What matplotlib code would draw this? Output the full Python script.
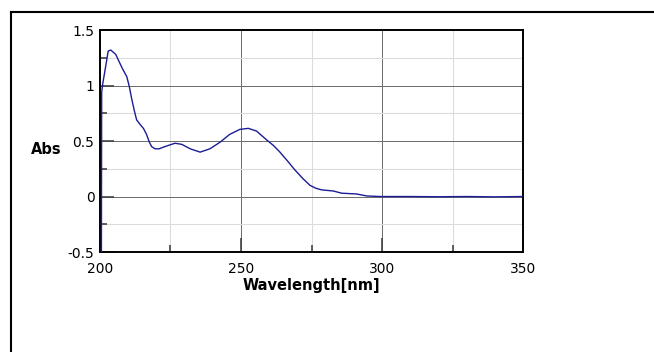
import matplotlib
matplotlib.use("Agg")
import matplotlib.pyplot as plt
from matplotlib.lines import Line2D
from matplotlib.ticker import MultipleLocator

plt.rcParams['font.family'] = ['DejaVu Sans']

# UV spectrum
wavelength = [200.5, 200.6, 201.0, 201.8, 202.9, 203.8, 204.7, 205.6, 206.5, 208.0,
              209.5, 210.4, 211.2, 212.2, 213.0, 214.2, 215.4, 216.5, 217.5, 218.3,
              219.5, 221.0, 222.5, 224.2, 226.6, 229.0, 232.0, 235.5, 239.0, 242.6,
              246.0, 249.6, 252.6, 255.5, 259.1, 261.5, 263.8, 266.5, 269.1, 272.0,
              274.5, 276.5, 278.6, 282.7, 285.7, 288.0, 291.0, 294.6, 299.3, 310,
              320, 330, 340, 350]
absorbance = [-0.5, 0.94, 1.02, 1.14, 1.31, 1.32, 1.30, 1.28, 1.23, 1.15,
              1.08, 0.99, 0.885, 0.77, 0.69, 0.65, 0.614, 0.56, 0.49, 0.45,
              0.43, 0.43, 0.445, 0.46, 0.48, 0.47, 0.43, 0.40, 0.43, 0.49,
              0.56, 0.605, 0.614, 0.59, 0.51, 0.46, 0.40, 0.32, 0.24, 0.16,
              0.10, 0.075, 0.06, 0.05, 0.03, 0.027, 0.023, 0.005, 0.0, 0.0,
              -0.002, 0.0, -0.003, 0.0]

fig = plt.figure(figsize=(6.54, 3.52), dpi=100)
ax = fig.add_axes([0.1529, 0.284, 0.6468, 0.6307])

ax.plot(wavelength, absorbance, color='#1c1c96', lw=1.0, zorder=3)

ax.set_xlim(200, 350)
ax.set_ylim(-0.5, 1.5)
ax.xaxis.set_major_locator(MultipleLocator(50))
ax.xaxis.set_minor_locator(MultipleLocator(25))
ax.yaxis.set_major_locator(MultipleLocator(0.5))
ax.yaxis.set_minor_locator(MultipleLocator(0.25))
ax.set_yticks([-0.5, 0, 0.5, 1, 1.5])
ax.set_yticklabels(['-0.5', '0', '0.5', '1', '1.5'])

ax.grid(which='major', color='#6a6a6a', lw=0.7)
ax.grid(which='minor', color='#dcdcdc', lw=0.8)
ax.set_axisbelow(True)

ax.tick_params(which='major', direction='in', length=10, width=1.2, color='#444444',
               labelsize=10, pad=4)
ax.tick_params(which='minor', direction='in', length=5, width=1.2, color='#444444')
ax.tick_params(axis='x', pad=7.5)
for s in ax.spines.values():
    s.set_linewidth(1.4)
    s.set_color('black')

ax.set_xlabel('Wavelength[nm]', fontsize=10.5, fontweight='bold', labelpad=1)
fig.text(46.5 / 654, 1 - 149 / 352, 'Abs', fontsize=10.5, fontweight='bold',
         ha='center', va='center')

# outer frame (only top and left visible)
fig.add_artist(Line2D([11 / 654, 11 / 654], [0, 1 - 12 / 352], color='black', lw=1.5))
fig.add_artist(Line2D([11 / 654, 1], [1 - 12 / 352, 1 - 12 / 352], color='black', lw=1.5))

fig.savefig('out.png', dpi=100)
